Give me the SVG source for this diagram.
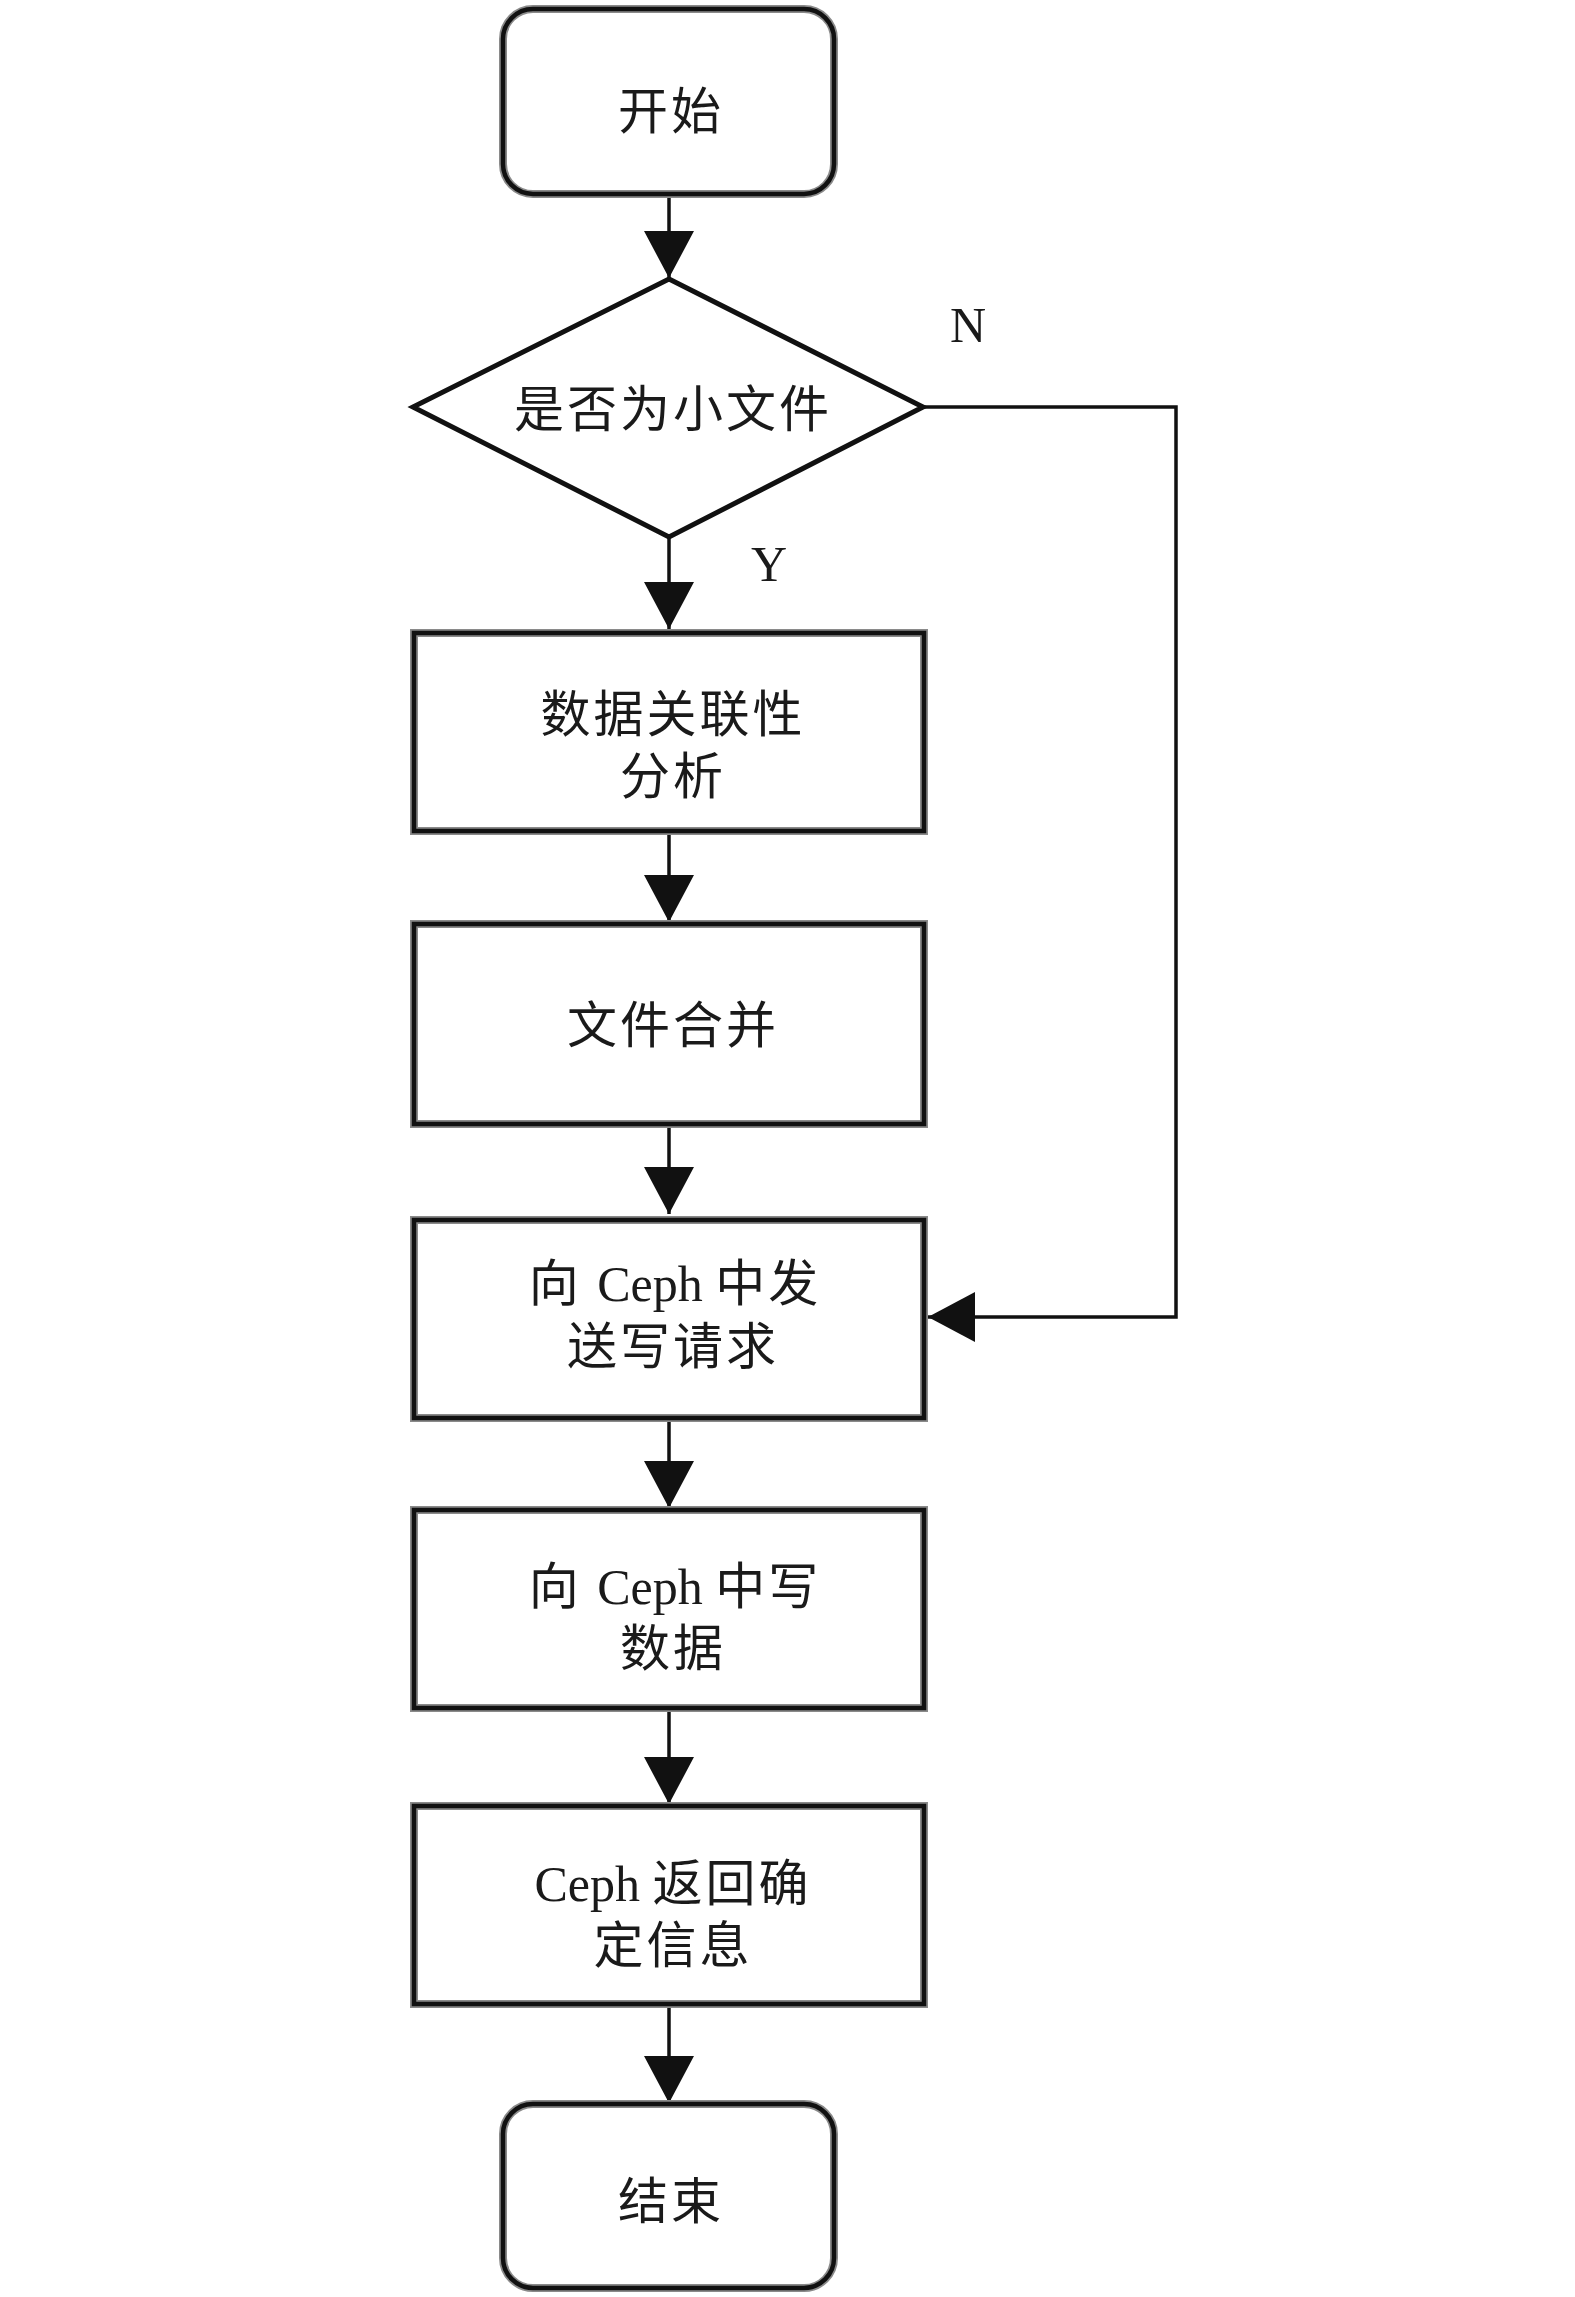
<svg xmlns="http://www.w3.org/2000/svg" width="1575" height="2297" viewBox="0 0 1575 2297">
<style>
  .halo { fill: #ffffff; stroke: #8a8a8a; stroke-width: 8; }
  .box { fill: none; stroke: #111111; stroke-width: 4.5; }
  .dia { fill: #ffffff; stroke: #111111; stroke-width: 5; stroke-linejoin: miter; }
  .lbl { font-family: "Liberation Serif", "Noto Sans CJK SC", serif; font-size: 50px; fill: #1a1a1a; text-anchor: middle; letter-spacing: 3px; }
  .lat { letter-spacing: 0px; }
  .yn { font-family: "Liberation Serif", serif; font-size: 50px; fill: #1a1a1a; text-anchor: middle; }
  .edge { fill: none; stroke: #111111; stroke-width: 3.5; marker-end: url(#arr); }
</style>
<defs>
  <marker id="arr" markerUnits="userSpaceOnUse" markerWidth="47" markerHeight="50" refX="47" refY="25" orient="auto">
    <path d="M0,0 L47,25 L0,50 Z" fill="#111111"/>
  </marker>
</defs>
<rect width="1575" height="2297" fill="#ffffff"/>

<g id="connectors">
  <line class="edge" x1="669" y1="195" x2="669" y2="278"/>
  <line class="edge" x1="669" y1="537" x2="669" y2="629"/>
  <line class="edge" x1="669" y1="831" x2="669" y2="922"/>
  <line class="edge" x1="669" y1="1124" x2="669" y2="1214"/>
  <line class="edge" x1="669" y1="1418" x2="669" y2="1508"/>
  <line class="edge" x1="669" y1="1708" x2="669" y2="1804"/>
  <line class="edge" x1="669" y1="2004" x2="669" y2="2103"/>
  <polyline class="edge" points="923,407 1176,407 1176,1317 928,1317"/>
  <text class="yn" x="968" y="342">N</text>
  <text class="yn" x="769" y="581">Y</text>
</g>

<g id="start">
  <rect class="halo" x="503" y="9" width="331" height="185" rx="30"/>
  <rect class="box" x="503" y="9" width="331" height="185" rx="30"/>
  <text class="lbl" x="671" y="129">开始</text>
</g>

<g id="decision">
  <polygon class="dia" points="669,279 923,407 669,537 413,407"/>
  <text class="lbl" x="673" y="427">是否为小文件</text>
</g>

<g id="analyze">
  <rect class="halo" x="414" y="633" width="510" height="198"/>
  <rect class="box" x="414" y="633" width="510" height="198"/>
  <text class="lbl" x="673" y="732">数据关联性<tspan x="673" y="794">分析</tspan></text>
</g>

<g id="merge">
  <rect class="halo" x="414" y="924" width="510" height="200"/>
  <rect class="box" x="414" y="924" width="510" height="200"/>
  <text class="lbl" x="673" y="1043">文件合并</text>
</g>

<g id="sendReq">
  <rect class="halo" x="414" y="1220" width="510" height="198"/>
  <rect class="box" x="414" y="1220" width="510" height="198"/>
  <text class="lbl" x="675" y="1301">向 <tspan class="lat">Ceph </tspan>中发<tspan x="673" y="1364">送写请求</tspan></text>
</g>

<g id="writeData">
  <rect class="halo" x="414" y="1510" width="510" height="198"/>
  <rect class="box" x="414" y="1510" width="510" height="198"/>
  <text class="lbl" x="675" y="1604">向 <tspan class="lat">Ceph </tspan>中写<tspan x="673" y="1666">数据</tspan></text>
</g>

<g id="confirm">
  <rect class="halo" x="414" y="1806" width="510" height="198"/>
  <rect class="box" x="414" y="1806" width="510" height="198"/>
  <text class="lbl" x="673" y="1901"><tspan class="lat">Ceph </tspan>返回确<tspan x="673" y="1963">定信息</tspan></text>
</g>

<g id="end">
  <rect class="halo" x="503" y="2104" width="331" height="184" rx="30"/>
  <rect class="box" x="503" y="2104" width="331" height="184" rx="30"/>
  <text class="lbl" x="671" y="2219">结束</text>
</g>
</svg>
